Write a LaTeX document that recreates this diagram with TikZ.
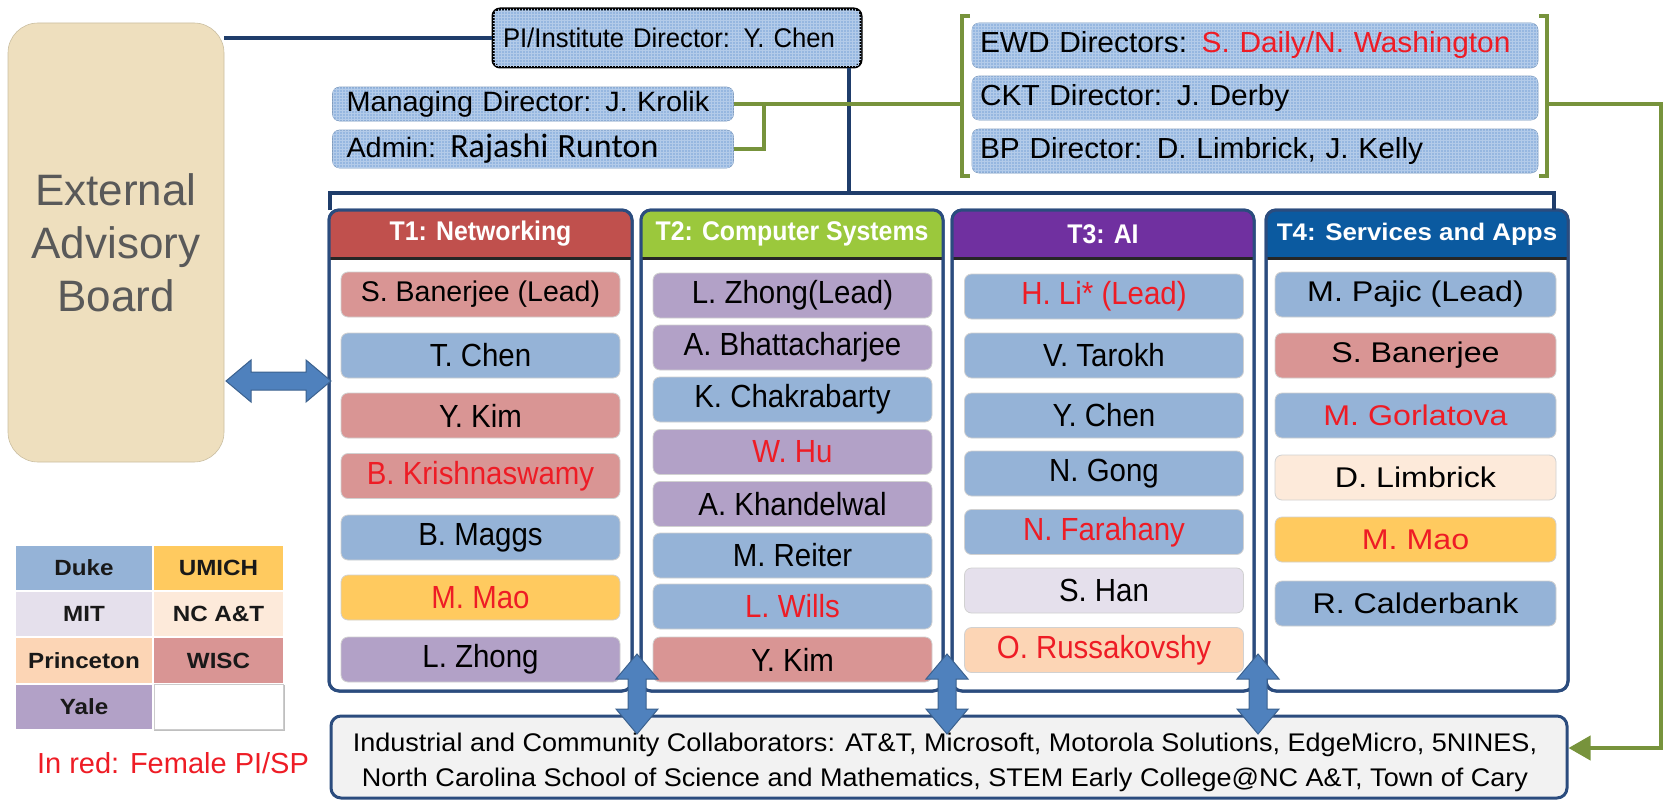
\documentclass[tikz,border=0pt]{standalone}
\usepackage{fontspec}
\setmainfont{Liberation Sans}
\newfontfamily\nameN{Liberation Sans}[FakeStretch=0.92]
\newfontfamily\nameL{Liberation Sans}[FakeStretch=1.0]
\newfontfamily\nameW{Liberation Sans}[FakeStretch=1.13]
\newfontfamily\headN{Liberation Sans}[FakeStretch=0.92]
\newfontfamily\headW{Liberation Sans}[FakeStretch=1.08]
\newfontfamily\topW{Liberation Sans}[FakeStretch=1.03]
\newfontfamily\topN{Liberation Sans}[FakeStretch=0.95]
\newfontfamily\collabF{Liberation Sans}[FakeStretch=1.06]
\newfontfamily\legF{Liberation Sans}[FakeStretch=1.1]
\newfontfamily\calib{Carlito}
\usetikzlibrary{calc,arrows.meta,patterns}

\definecolor{duke}{HTML}{95B3D7}
\definecolor{wisc}{HTML}{D99594}
\definecolor{yale}{HTML}{B2A1C7}
\definecolor{umich}{HTML}{FFCA5F}
\definecolor{mit}{HTML}{E5E0EC}
\definecolor{ncat}{HTML}{FDEADA}
\definecolor{princeton}{HTML}{FCD5B5}
\definecolor{femred}{HTML}{EE1C25}
\definecolor{navyline}{HTML}{1F3D6B}
\definecolor{colline}{HTML}{2B4C7E}
\definecolor{olive}{HTML}{77933C}
\definecolor{topblue}{HTML}{96B7E0}
\definecolor{parch}{HTML}{EEDFBE}
\definecolor{hdrred}{HTML}{C0504D}
\definecolor{hdrgreen}{HTML}{9BC83C}
\definecolor{hdrpurple}{HTML}{7030A0}
\definecolor{hdrblue}{HTML}{0B5AA0}
\definecolor{arrfill}{HTML}{4F81BD}
\definecolor{collabfill}{HTML}{F2F2F2}

\tikzset{
  navy/.style={draw=navyline, line width=4pt},
  greenln/.style={draw=olive, line width=4pt},
  topbox/.style={rounded corners=7pt, fill=topblue, draw=topblue!85!black, line width=0.6pt,
    postaction={pattern=grid, pattern color=topblue!72!white},
    inner ysep=0pt, align=left, text=black},
  nmbase/.style={rounded corners=7pt, draw=black!18, line width=0.8pt, minimum height=45pt,
    inner sep=0pt, outer sep=0pt, text=black},
  nmA/.style={nmbase, minimum width=279pt, font=\fontsize{32}{32}\selectfont\nameN},
  nmD/.style={nmbase, minimum width=281pt, font=\fontsize{28.5}{28.5}\selectfont\nameW},
  fem/.style={text=femred},
  colframe/.style={rounded corners=10pt, draw=colline, line width=3pt, fill=white,
    inner sep=0pt, outer sep=0pt, minimum height=481pt},
  hdtext/.style={text=white, font=\fontsize{27}{27}\selectfont\bfseries\headN},
  legcell/.style={draw=white, line width=2pt, inner sep=0pt, minimum height=46.25pt,
    font=\fontsize{22}{22}\selectfont\bfseries\legF, text=black!90},
  arrowstyle/.style={fill=arrfill, draw=arrfill!75!black, line width=1pt},
  pics/fatarrow/.style={code={
    \filldraw[arrowstyle] (-#1/2,0) -- (-#1/2+25,-21) -- (-#1/2+25,-9) -- (#1/2-25,-9)
      -- (#1/2-25,-21) -- (#1/2,0) -- (#1/2-25,21) -- (#1/2-25,9) -- (-#1/2+25,9)
      -- (-#1/2+25,21) -- cycle;
  }}
}

\begin{document}
\begin{tikzpicture}[x=1pt,y=-1pt]
\useasboundingbox (0,0) rectangle (1675,800);

% ---------- advisory board ----------
\node[rounded corners=30pt, fill=parch, draw=parch!85!black, line width=0.6pt,
  minimum width=216pt, minimum height=439pt, inner sep=0pt, align=center,
  text=black!65, font=\fontsize{44}{53}\selectfont] (eab) at (116,242.5)
  {External\\Advisory\\Board};

% ---------- leadership boxes ----------
\node[topbox, draw=black, line width=3pt, text width=348pt, inner xsep=10pt,
  minimum height=58pt, font=\fontsize{27}{27}\selectfont\topN] (pi) at (677,38)
  {PI/Institute Director: Y. Chen};
\node[topbox, text width=373pt, inner xsep=14pt, minimum height=34pt,
  font=\fontsize{28}{28}\selectfont\topW] (mgr) at (533,104)
  {Managing Director: J. Krolik};
\node[topbox, text width=373pt, inner xsep=14pt, minimum height=38pt,
  font=\fontsize{28}{28}\selectfont\topW] (adm) at (533,149)
  {Admin: {\calib\fontsize{34}{34}\selectfont Rajashi Runton}};
\node[topbox, text width=550pt, inner xsep=8pt, minimum height=45pt,
  font=\fontsize{29}{29}\selectfont\topW] (ewd) at (1255,45.5)
  {EWD Directors: \textcolor{femred}{S. Daily/N. Washington}};
\node[topbox, text width=550pt, inner xsep=8pt, minimum height=44pt,
  font=\fontsize{29}{29}\selectfont\topW] (ckt) at (1255,98)
  {CKT Director: J. Derby};
\node[topbox, text width=550pt, inner xsep=8pt, minimum height=44pt,
  font=\fontsize{29}{29}\selectfont\topW] (bp) at (1255,151)
  {BP Director: D. Limbrick, J. Kelly};

% ---------- thrust columns ----------
\node[colframe, minimum width=303pt] (c1) at (480.5,450.5) {};
\node[colframe, minimum width=302pt] (c2) at (792,450.5) {};
\node[colframe, minimum width=302pt] (c3) at (1103,450.5) {};
\node[colframe, minimum width=302pt] (c4) at (1417,450.5) {};

\foreach \c/\col in {c1/hdrred, c2/hdrgreen, c3/hdrpurple, c4/hdrblue}{
  \begin{scope}
    \clip[rounded corners=10pt] (\c.north west) rectangle (\c.south east);
    \fill[\col] (\c.north west) rectangle ($(\c.north east)+(0,48)$);
  \end{scope}
  \draw[line width=3pt, black!85] ($(\c.north west)+(0,48)$) -- ($(\c.north east)+(0,48)$);
  \draw[colline, line width=3pt, rounded corners=10pt] (\c.north west) rectangle (\c.south east);
}
\node[hdtext] (h1) at (480.5,234) {T1: Networking};
\node[hdtext] (h2) at (792,234) {T2: Computer Systems};
\node[hdtext] (h3) at (1103,234) {T3: AI};
\node[hdtext, font=\fontsize{24}{24}\selectfont\bfseries\headW] (h4) at (1417,234) {T4: Services and Apps};

% T1: Networking
\node[nmA, fill=wisc, font=\fontsize{28.5}{28.5}\selectfont\nameL] (a1) at (480.5,294.5) {S. Banerjee (Lead)};
\node[nmA, fill=duke] (a2) at (480.5,355.5) {T. Chen};
\node[nmA, fill=wisc] (a3) at (480.5,415.5) {Y. Kim};
\node[nmA, fill=wisc, fem] (a4) at (480.5,476) {B. Krishnaswamy};
\node[nmA, fill=duke] (a5) at (480.5,537.5) {B. Maggs};
\node[nmA, fill=umich, fem] (a6) at (480.5,597.5) {M. Mao};
\node[nmA, fill=yale] (a7) at (480.5,659.5) {L. Zhong};

% T2: Computer Systems
\node[nmA, fill=yale] (b1) at (792.5,295.5) {L. Zhong(Lead)};
\node[nmA, fill=yale] (b2) at (792.5,347.5) {A. Bhattacharjee};
\node[nmA, fill=duke] (b3) at (792.5,399.5) {K. Chakrabarty};
\node[nmA, fill=yale, fem] (b4) at (792.5,452) {W. Hu};
\node[nmA, fill=yale] (b5) at (792.5,504) {A. Khandelwal};
\node[nmA, fill=duke] (b6) at (792.5,555.5) {M. Reiter};
\node[nmA, fill=duke, fem] (b7) at (792.5,606.5) {L. Wills};
\node[nmA, fill=wisc] (b8) at (792.5,659.5) {Y. Kim};

% T3: AI
\node[nmA, fill=duke, fem] (d1) at (1104,296.5) {H. Li* (Lead)};
\node[nmA, fill=duke] (d2) at (1104,355.5) {V. Tarokh};
\node[nmA, fill=duke] (d3) at (1104,415.5) {Y. Chen};
\node[nmA, fill=duke] (d4) at (1104,473.5) {N. Gong};
\node[nmA, fill=duke, fem] (d5) at (1104,532) {N. Farahany};
\node[nmA, fill=mit] (d6) at (1104,590.5) {S. Han};
\node[nmA, fill=princeton, fem] (d7) at (1104,650) {O. Russakovshy};

% T4: Services and Apps
\node[nmD, fill=duke] (e1) at (1415.5,294.5) {M. Pajic (Lead)};
\node[nmD, fill=wisc] (e2) at (1415.5,355.5) {S. Banerjee};
\node[nmD, fill=duke, fem] (e3) at (1415.5,415.5) {M. Gorlatova};
\node[nmD, fill=ncat] (e4) at (1415.5,477.5) {D. Limbrick};
\node[nmD, fill=umich, fem] (e5) at (1415.5,539.5) {M. Mao};
\node[nmD, fill=duke] (e6) at (1415.5,603.5) {R. Calderbank};

% ---------- collaborators ----------
\node[rounded corners=10pt, fill=collabfill, draw=colline, line width=3pt,
  minimum width=1236pt, minimum height=82pt, inner sep=0pt] (collab) at (949,757) {};
\node[align=center, inner sep=0pt, font=\fontsize{25.5}{35}\selectfont\collabF] (collabtxt) at (945,762)
  {Industrial and Community Collaborators: AT\&T, Microsoft, Motorola Solutions, EdgeMicro, 5NINES,\\
   North Carolina School of Science and Mathematics, STEM Early College@NC A\&T, Town of Cary};

% ---------- connectors ----------
\draw[navy] (pi.west) -- (pi.west -| eab.east);
\coordinate (nb) at (849,193);
\draw[navy] (pi.south -| nb) -- (nb);
\coordinate (nbl) at (330,210);
\coordinate (nbr) at (1554,210);
\draw[navy] (nbl) -- (nbl |- nb) -- (nbr |- nb) -- (nbr);

\coordinate (gbl) at (962,104);
\coordinate (gbr) at (1547,104);
\draw[greenln] (970,16) -- (962,16) -- (962,176) -- (970,176);
\draw[greenln] (1539,16) -- (1547,16) -- (1547,176) -- (1539,176);
\draw[greenln] (mgr.east) -- (gbl);
\draw[greenln] (adm.east) -| ($(mgr.east)+(30,0)$);
\coordinate (gin) at (1661,748);
\draw[greenln, -{Triangle[width=24pt,length=22pt]}] (gbr) -- (1661,104) -- (gin) -- (gin -| collab.east);

% two-way links
\pic at (278.5,381) {fatarrow=105};
\pic[rotate=90] at (637,694) {fatarrow=80};
\pic[rotate=90] at (947,694) {fatarrow=80};
\pic[rotate=90] at (1258,694) {fatarrow=80};

% ---------- legend ----------
\draw[black!25, line width=1pt] (15,545) rectangle (284,730);
\node[legcell, fill=duke, minimum width=138pt] (lg1) at (84,568.1) {Duke};
\node[legcell, fill=umich, minimum width=131pt] (lg2) at (218.5,568.1) {UMICH};
\node[legcell, fill=mit, minimum width=138pt] (lg3) at (84,614.4) {MIT};
\node[legcell, fill=ncat, minimum width=131pt] (lg4) at (218.5,614.4) {NC A\&T};
\node[legcell, fill=princeton, minimum width=138pt] (lg5) at (84,660.6) {Princeton};
\node[legcell, fill=wisc, minimum width=131pt] (lg6) at (218.5,660.6) {WISC};
\node[legcell, fill=yale, minimum width=138pt] (lg7) at (84,706.9) {Yale};
\node[legcell, fill=white, draw=black!20, line width=1pt, minimum width=129pt, minimum height=44.25pt] (lg8) at (218.5,706.9) {};
\node[text=femred, font=\fontsize{29}{29}\selectfont, inner sep=0pt] (note) at (173,763) {In red: Female PI/SP};

\end{tikzpicture}
\end{document}
